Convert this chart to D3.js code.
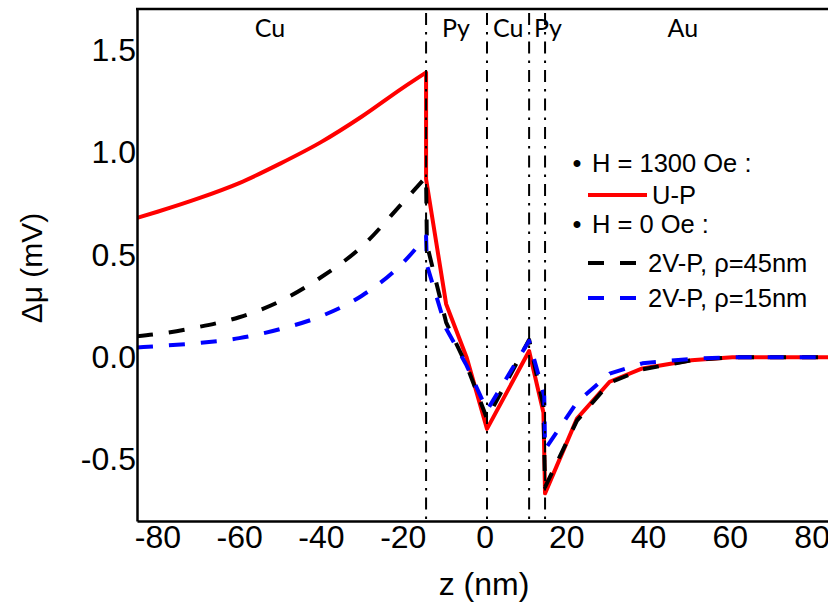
<!DOCTYPE html>
<html><head><meta charset="utf-8">
<script src="https://cdn.jsdelivr.net/npm/d3@7"></script>
<style>
body{margin:0;background:#fff;}
svg{display:block;}
</style></head>
<body>
<svg id="c" width="828" height="608"></svg>
<script>
// ---- data ----
const xTicks = [-80, -60, -40, -20, 0, 20, 40, 60, 80];
const yTicks = [-0.5, 0.0, 0.5, 1.0, 1.5];
const interfaces = [-14.3, 0.6, 10.9, 14.8];
const layerNames = ["Cu", "Py", "Cu", "Py", "Au"];
const layerCenters = [-52.5, -7.0, 5.8, 15.5, 48.5];

const zRed = [-85, -80, -70, -60, -50, -40, -30, -20, -14.3, -14.3, -9.4, -4.4, 0.6, 10.9, 14.4, 14.8, 22.6, 30.6, 38.6, 50.6, 60.6, 84];
const vRed = [0.68, 0.71, 0.775, 0.85, 0.945, 1.05, 1.175, 1.315, 1.39, 0.87, 0.26, 0.0, -0.35, 0.03, -0.27, -0.665, -0.30, -0.12, -0.055, -0.015, 0.0, 0.0];

const zBlack = [-85, -80, -70, -60, -50, -40, -30, -20, -14.3, -14.1, -9.4, -4.4, 0.6, 10.9, 14.4, 14.8, 22.6, 30.6, 38.6, 50.6, 60.6, 84];
const vBlack = [0.102, 0.113, 0.147, 0.195, 0.273, 0.39, 0.54, 0.755, 0.88, 0.55, 0.17, -0.04, -0.30, 0.085, -0.24, -0.635, -0.31, -0.125, -0.06, -0.015, 0.0, 0.0];

const zBlue = [-85, -80, -70, -60, -50, -40, -30, -20, -14.3, -14.1, -9.4, -4.4, 0.6, 10.9, 14.6, 14.8, 22.6, 30.6, 38.6, 50.6, 60.6, 84];
const vBlue = [0.047, 0.054, 0.069, 0.093, 0.137, 0.20, 0.30, 0.46, 0.59, 0.45, 0.14, -0.04, -0.26, 0.08, -0.19, -0.45, -0.22, -0.08, -0.03, -0.008, 0.0, 0.0];

const seriesNames = ["U-P", "2V-P, ρ=45nm", "2V-P, ρ=15nm"];
const groupNames = ["H = 1300 Oe :", "H = 0 Oe :"];

// ---- layout ----
const svg = d3.select("#c");
const L = 137, R = 828, T = 9, B = 521;
const x = d3.scaleLinear().domain([-85, 84]).range([L, R]);
const y = d3.scaleLinear().domain([-0.8, 1.7]).range([B, T]);
const axisFont = "Liberation Sans, Arial, sans-serif";

// curves: smooth in the left Cu layer, piecewise linear elsewhere
const smooth = d3.line().x(d => x(d[0])).y(d => y(d[1])).curve(d3.curveMonotoneX);
const linear = d3.line().x(d => x(d[0])).y(d => y(d[1]));
const nCu = zRed.filter(z => z <= interfaces[0]).length - 1; // points in the left Cu layer
const pathOf = pts => {
  const a = smooth(pts.slice(0, nCu));
  const b = linear(pts.slice(nCu - 1)).replace(/^M/, "L");
  return a + b;
};
const mk = (zs, vs) => zs.map((z, i) => [z, vs[i]]);
const series = [
  {data: mk(zRed, vRed), color: "#ff0000", dash: null},
  {data: mk(zBlack, vBlack), color: "#000000", dash: "16,16"},
  {data: mk(zBlue, vBlue), color: "#0000ff", dash: "16,16"}
];
svg.append("defs").append("clipPath").attr("id", "clip")
  .append("rect").attr("x", L).attr("y", T).attr("width", R - L).attr("height", B - T);
const g = svg.append("g").attr("clip-path", "url(#clip)");
series.forEach(s => {
  g.append("path").attr("d", pathOf(s.data))
    .attr("fill", "none").attr("stroke", s.color).attr("stroke-width", 4)
    .attr("stroke-linejoin", "round")
    .attr("stroke-dasharray", s.dash);
});

// interface dash-dot lines
svg.append("g").selectAll("line").data(interfaces).join("line")
  .attr("x1", d => x(d)).attr("x2", d => x(d))
  .attr("y1", 13).attr("y2", B)
  .attr("stroke", "#000").attr("stroke-width", 2)
  .attr("stroke-dasharray", "12,7,2.5,7");

// layer labels
svg.append("g").selectAll("text").data(layerNames).join("text")
  .attr("x", (d, i) => x(layerCenters[i])).attr("y", 37)
  .attr("text-anchor", "middle")
  .style("font-family", "Lato, 'Open Sans', sans-serif").style("font-size", "25px")
  .text(d => d);

// axes
const xa = svg.append("g").attr("transform", `translate(0,${B})`)
  .call(d3.axisBottom(x).tickValues(xTicks).tickFormat(d => String(d)).tickSize(0).tickSizeOuter(0).tickPadding(4));
const ya = svg.append("g").attr("transform", `translate(${L},0)`)
  .call(d3.axisLeft(y).tickValues(yTicks).tickFormat(d => d3.format(".1f")(d).replace("−", "-")).tickSize(0).tickSizeOuter(0).tickPadding(1));
[xa, ya].forEach(a => {
  a.select(".domain").attr("stroke", "#000").attr("stroke-width", 2.5);
  a.selectAll("text").attr("font-family", axisFont).attr("font-size", 32).attr("fill", "#000");
});
// top border
svg.append("line").attr("x1", L - 1).attr("x2", R).attr("y1", T).attr("y2", T)
  .attr("stroke", "#000").attr("stroke-width", 2.5);

// axis titles
svg.append("text").attr("x", 484).attr("y", 595).attr("text-anchor", "middle")
  .attr("font-family", axisFont).attr("font-size", 32).text("z (nm)");
svg.append("text").attr("transform", "translate(42,268) rotate(-90)").attr("text-anchor", "middle")
  .attr("font-family", axisFont).attr("font-size", 30).text("Δμ (mV)");

// legend
const lg = svg.append("g").attr("font-family", axisFont).attr("font-size", 25.5);
const bulletRows = [{y: 171.5, t: groupNames[0]}, {y: 233, t: groupNames[1]}];
bulletRows.forEach(r => {
  lg.append("text").attr("x", 577).attr("y", r.y).attr("text-anchor", "middle").text("•");
  lg.append("text").attr("x", 592).attr("y", r.y).text(r.t);
});
const legRows = [{y: 195, s: series[0], t: seriesNames[0], tx: 652},
                 {y: 263, s: series[1], t: seriesNames[1], tx: 648},
                 {y: 298, s: series[2], t: seriesNames[2], tx: 648}];
legRows.forEach(r => {
  lg.append("line").attr("x1", 588).attr("x2", r.s.dash ? 637 : 647).attr("y1", r.y).attr("y2", r.y)
    .attr("stroke", r.s.color).attr("stroke-width", 4).attr("stroke-dasharray", r.s.dash);
  lg.append("text").attr("x", r.tx).attr("y", r.y + 8.5).text(r.t);
});
</script>
</body></html>
